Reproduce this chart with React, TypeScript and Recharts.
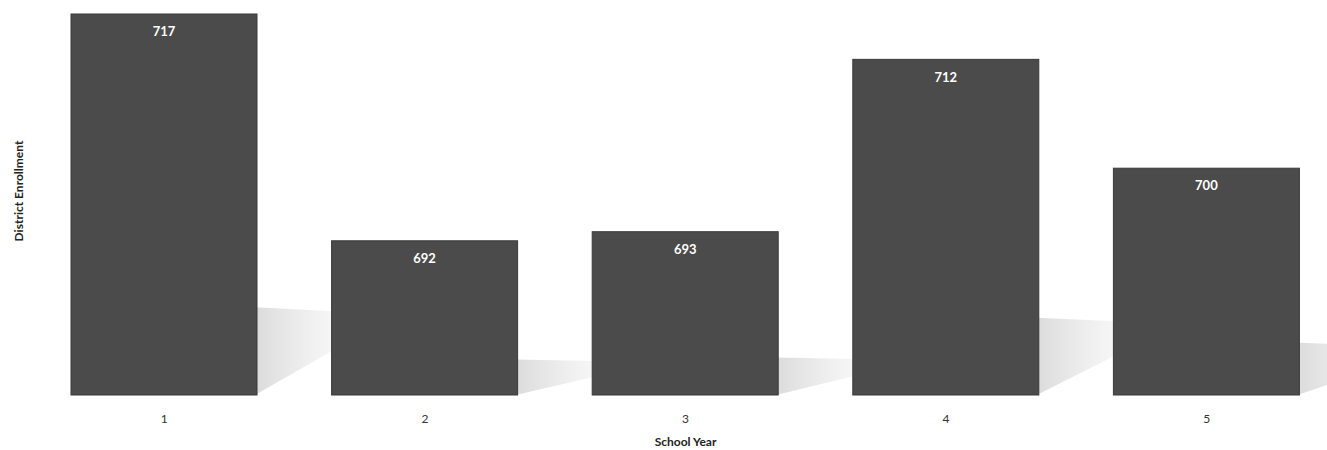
import { Bar, BarChart, LabelList, XAxis, YAxis } from 'recharts'

const years = ['1', '2', '3', '4', '5']
const enrollment = [717, 692, 693, 712, 700]

const data = years.map((year, i) => ({ year, enrollment: enrollment[i] }))

const font = 'Lato, "Open Sans", sans-serif'

// bar plus the soft grey floor shadow behind it
const ShadowBar = (props: any) => {
	const { x, y, width, height } = props
	const r = x + width
	const b = y + height
	const pts = [
		[r - 2, b - 0.23 * height],
		[r + 78, b - 0.22 * height],
		[r + 78, b - 0.12 * height],
		[r - 2, b],
	]
	return (
		<g>
			<polygon points={pts.map((p) => p.join(',')).join(' ')} fill='url(#shade)' />
			<rect x={x} y={y} width={width} height={height} fill='#4b4b4b' stroke='#3a3a3a' strokeWidth={1} />
		</g>
	)
}

const YTitle = () => (
	<text x={18} y={191} transform='rotate(-90 18 191)' textAnchor='middle' dominantBaseline='central' fontFamily={font} fontSize={12} fontWeight={700} fill='#222'>
		District Enrollment
	</text>
)

const App = () => {
	return (
		<div style={{ position: 'absolute', left: 0, top: 0, width: 1327, height: 450, overflow: 'hidden', background: '#fff' }}>
			<BarChart width={1340} height={450} data={data} margin={{ top: 14, right: 3, left: 0, bottom: 15 }} barSize={186}>
				<defs>
					<linearGradient id='shade' x1='0' y1='0' x2='1' y2='0'>
						<stop offset='0%' stopColor='#cfcfcf' stopOpacity={0.75} />
						<stop offset='100%' stopColor='#dedede' stopOpacity={0.25} />
					</linearGradient>
				</defs>
				<XAxis
					dataKey='year'
					height={40}
					axisLine={false}
					tickLine={false}
					tickMargin={13}
					tick={{ fontFamily: font, fontSize: 12, fill: '#333' }}
					label={{ value: 'School Year', position: 'insideBottom', offset: -11, fontFamily: font, fontSize: 12, fontWeight: 700, fill: '#222' }}
				/>
				<YAxis domain={[675, 717]} hide width={34} />
				<YAxis yAxisId='title' width={34} tick={false} axisLine={false} label={<YTitle />} />
				<Bar dataKey='enrollment' shape={<ShadowBar />} isAnimationActive={false}>
					<LabelList dataKey='enrollment' position='insideTop' offset={13} fill='#fff' fontFamily={font} fontSize={13} fontWeight={700} />
				</Bar>
			</BarChart>
		</div>
	)
}

export default App
